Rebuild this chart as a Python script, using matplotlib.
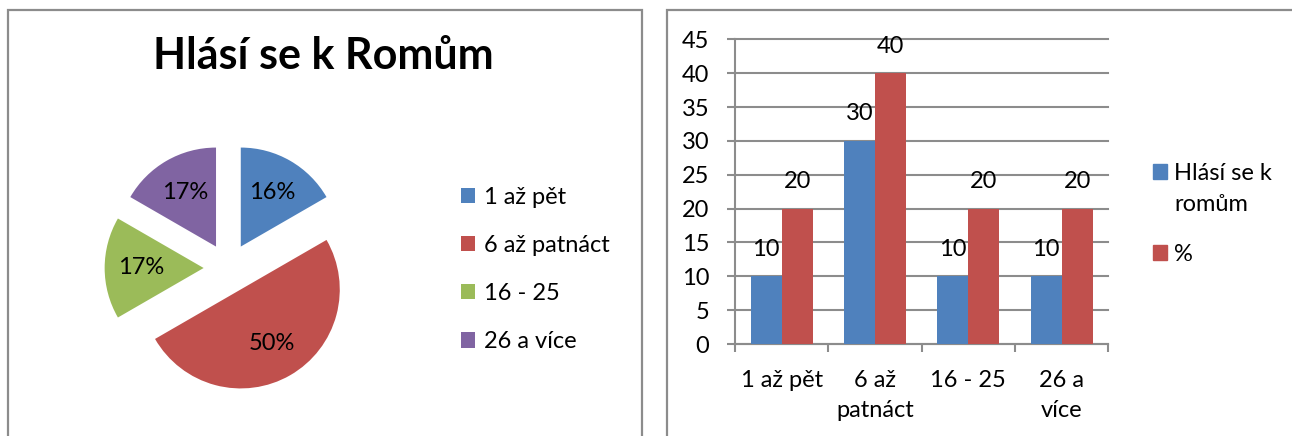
import matplotlib
matplotlib.use("Agg")
import matplotlib.pyplot as plt
import numpy as np
from matplotlib.patches import Rectangle

# data
categories = ["1 až pět", "6 až patnáct", "16 - 25", "26 a více"]
tick_labels = ["1 až pět", "6 až\npatnáct", "16 - 25", "26 a\nvíce"]
romove = [10, 30, 10, 10]          # Hlásí se k romům
procenta = [20, 40, 20, 20]        # %
pie_pct_labels = ["16%", "50%", "17%", "17%"]
series_names = ["Hlásí se k\nromům", "%"]

BLUE = "#4F81BD"
RED = "#C0504D"
GREEN = "#9BBB59"
PURPLE = "#8064A2"
GRID = "#8C8C8C"
BORDER = "#8C8C8C"
FS = 17

plt.rcParams["font.family"] = ["Lato", "DejaVu Sans"]

W, H = 1292, 436
fig = plt.figure(figsize=(W / 100, H / 100), dpi=100, facecolor="white")


def px(x0, y0_top, w, h):
    """pixel box (left, top, width, height) -> figure fraction rect"""
    return [x0 / W, 1 - (y0_top + h) / H, w / W, h / H]


# panel borders
fig.patches.append(Rectangle((8 / W, -0.1), (641.7 - 8) / W, 1 - 10 / H + 0.1,
                             transform=fig.transFigure, fill=False,
                             edgecolor=BORDER, lw=1.6))
fig.patches.append(Rectangle((666.7 / W, -0.1), 0.5, 1 - 10 / H + 0.1,
                             transform=fig.transFigure, fill=False,
                             edgecolor=BORDER, lw=1.6))

# ---- pie ----
R = 99.0
half = 150
axp = fig.add_axes(px(228.4 - half, 268 - half, 2 * half, 2 * half))
wedges, _ = axp.pie(romove, colors=[BLUE, RED, GREEN, PURPLE],
                    explode=[0.25] * 4, startangle=90, counterclock=False,
                    radius=1.0)
lim = half / R
axp.set_xlim(-lim, lim)
axp.set_ylim(-lim, lim)
axp.set_aspect("equal")
axp.axis("off")

# percentage labels placed along each wedge bisector
for w, lab in zip(wedges, pie_pct_labels):
    ang = np.deg2rad((w.theta1 + w.theta2) / 2)
    cx, cy = w.center
    d = 0.63
    axp.text(cx + d * np.cos(ang), cy + d * np.sin(ang), lab,
             ha="center", va="center", fontsize=FS, color="black")

fig.text(323.7 / W, 1 - 69.3 / H, "Hlásí se k Romům", ha="center",
         va="baseline", fontsize=31, fontweight="bold")

fig.legend(wedges, categories, loc="upper left",
           bbox_to_anchor=(449 / W, 1 - 175 / H), frameon=False,
           fontsize=FS, handlelength=0.62, handleheight=0.62,
           handletextpad=0.35, labelspacing=1.15, borderpad=0)

# ---- bar chart ----
axb = fig.add_axes(px(735, 39.3, 373.3, 304.7))
x = np.arange(len(categories))
bw = 1 / 3
b1 = axb.bar(x - bw / 2, romove, bw, color=BLUE, zorder=3)
b2 = axb.bar(x + bw / 2, procenta, bw, color=RED, zorder=3)
for bars, vals in ((b1, romove), (b2, procenta)):
    for r, v in zip(bars, vals):
        axb.annotate(str(v), (r.get_x() + r.get_width() / 2, v),
                     xytext=(0, 19.4), textcoords="offset points",
                     ha="center", va="center", fontsize=FS, zorder=4)

axb.set_xlim(-0.5, 3.5)
axb.set_ylim(0, 45)
axb.set_yticks(np.arange(0, 46, 5))
axb.yaxis.grid(True, color=GRID, lw=1.5, zorder=0, clip_on=False)
axb.set_xticks(x)
axb.set_xticklabels(tick_labels, fontsize=FS, linespacing=1.5)
axb.set_xticks(np.arange(-0.5, 4, 1), minor=True)
axb.tick_params(axis="x", which="major", length=0, pad=19)
axb.tick_params(axis="x", which="minor", length=6, width=1.5, color=GRID,
                direction="out")
axb.tick_params(axis="y", length=5.5, width=1.5, color=GRID, pad=13,
                labelsize=FS)
for s in ("top", "right"):
    axb.spines[s].set_visible(False)
for s in ("left", "bottom"):
    axb.spines[s].set_color(GRID)
    axb.spines[s].set_linewidth(1.5)

# series legend, square aligned with the first text line (as in Excel)
sq = 14.5
for name, col, y_top in zip(series_names, [BLUE, RED], [164, 245]):
    fig.patches.append(Rectangle((1152.7 / W, 1 - (y_top + sq) / H),
                                 sq / W, sq / H, transform=fig.transFigure,
                                 color=col))
    for i, line in enumerate(name.split("\n")):
        fig.text(1174 / W, 1 - (y_top + sq / 2 + 31 * i) / H, line,
                 ha="left", va="center_baseline", fontsize=FS)

fig.savefig("out.png", dpi=100, facecolor="white")
